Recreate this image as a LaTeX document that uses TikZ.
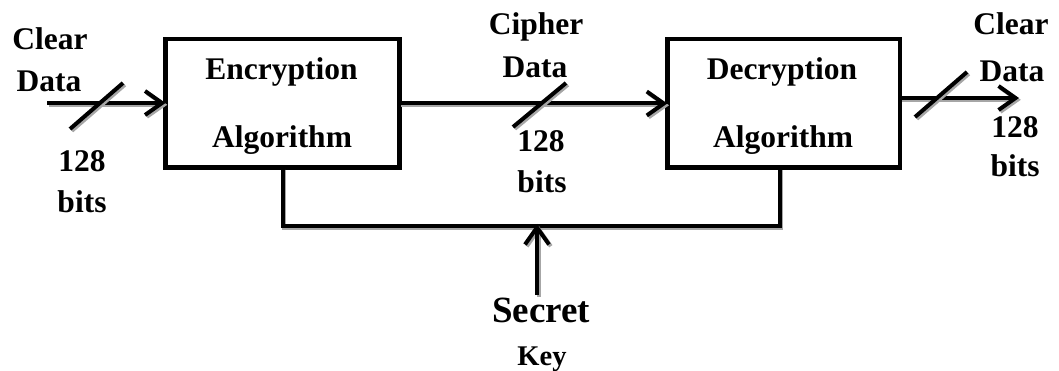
\documentclass[tikz,border=0pt]{standalone}
\usepackage{fontspec}
\setmainfont{Liberation Serif}
\usetikzlibrary{arrows.meta}

\tikzset{
  blockbox/.style={draw, line width=4.5pt, outer sep=0pt, inner sep=0pt,
    minimum width=234pt, minimum height=128.5pt},
  lbl/.style={font=\bfseries\fontsize{31.5}{36}\selectfont, anchor=base, inner sep=0pt},
  wire/.style={line width=4pt},
  flow/.style={wire, -{Straight Barb[length=17pt, width=24pt, line width=4pt]}},
  shadowcopy/.style={draw=black!35}
}

% draw a path with a soft grey copy just below and to the right of it
\newcommand\shadedpath[2]{%
  \begin{scope}[transform canvas={shift={(1.8pt,-1.8pt)}}]
    \draw[#1, shadowcopy] #2;
  \end{scope}
  \draw[#1] #2;}

\begin{document}
\begin{tikzpicture}[x=1pt, y=-1pt]
  \useasboundingbox (0,0) rectangle (1059,371);

  % processing blocks
  \node[blockbox] (enc) at (282.5,103.5) {};
  \node[blockbox, minimum width=232.5pt] (dec) at (783.5,103.5) {};

  \node[lbl] (enc1) at (281.5,80) {Encryption};
  \node[lbl] (enc2) at (282,148) {Algorithm};
  \node[lbl] (dec1) at (782,80) {Decryption};
  \node[lbl] (dec2) at (783,148) {Algorithm};

  % end points of the data path
  \coordinate (din) at (47,103);
  \coordinate (dout) at (1019,98);

  % data path
  \shadedpath{flow}{(din) -- (enc.west |- din)}
  \shadedpath{flow}{(enc.east) -- (dec.west)}
  \shadedpath{flow}{(dec.east |- dout) -- (dout)}

  % bus width marks
  \shadedpath{wire}{(70,129) -- (123,83)}
  \shadedpath{wire}{(513,127) -- (566,83)}
  \shadedpath{wire}{(915,117) -- (967,72)}

  % key distribution bus
  \coordinate (busmid) at (537,226);
  \shadedpath{wire}{(enc.south) |- (busmid) -| ([xshift=-4pt]dec.south)}
  \coordinate (keysrc) at (537,295);
  \shadedpath{flow}{(keysrc) -- ([yshift=2pt]busmid)}

  % labels
  \node[lbl] (cl1) at (50,50) {Clear};
  \node[lbl] (cl2) at (49,92) {Data};
  \node[lbl] (b1a) at (82,172) {128};
  \node[lbl] (b1b) at (82,213) {bits};

  \node[lbl] (cp1) at (536,35) {Cipher};
  \node[lbl] (cp2) at (535,78) {Data};
  \node[lbl] (b2a) at (541,152) {128};
  \node[lbl] (b2b) at (542,193) {bits};

  \node[lbl] (cr1) at (1011,35) {Clear};
  \node[lbl] (cr2) at (1012,82) {Data};
  \node[lbl] (b3a) at (1015,138) {128};
  \node[lbl] (b3b) at (1015,177) {bits};

  \node[lbl, font=\bfseries\fontsize{37}{40}\selectfont] (sk1) at (541,322) {Secret};
  \node[lbl, font=\bfseries\fontsize{28.5}{32}\selectfont] (sk2) at (542,365) {Key};
\end{tikzpicture}
\end{document}
